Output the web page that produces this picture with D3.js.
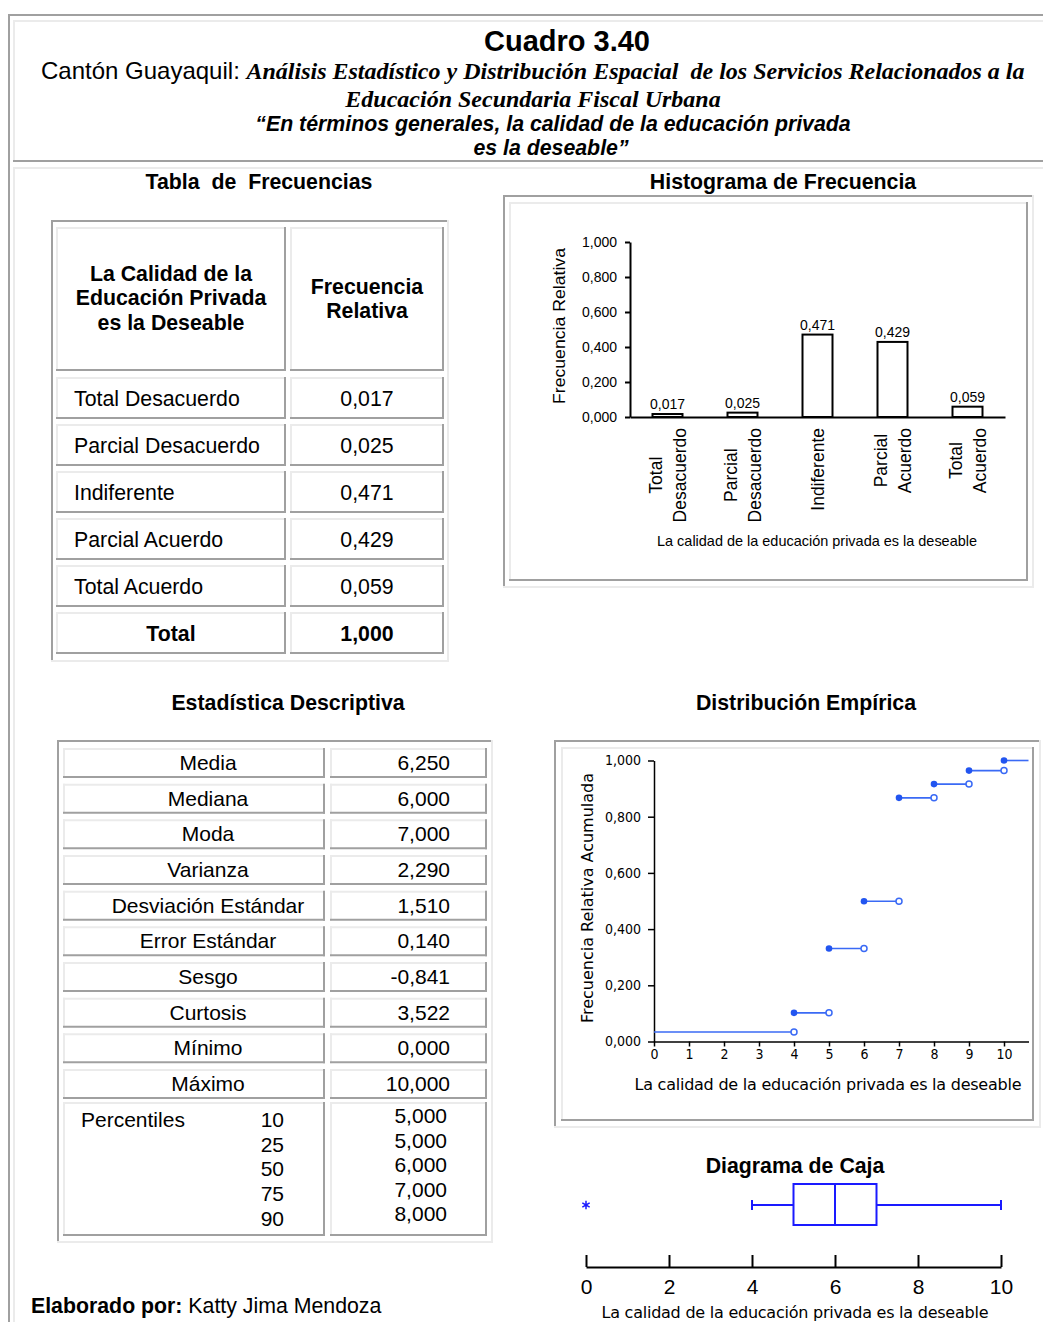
<!DOCTYPE html>
<html><head><meta charset="utf-8">
<script src="https://cdn.jsdelivr.net/npm/d3@7"></script>
<style>
body{margin:0;background:#fff}
svg{display:block}
text{font-family:"Liberation Sans",Arial,sans-serif;fill:#000;white-space:pre}
</style>
</head><body>
<svg id="c" width="1043" height="1322"></svg>
<script>
// ---------- DATA ----------
const categories = ["Total Desacuerdo","Parcial Desacuerdo","Indiferente","Parcial Acuerdo","Total Acuerdo"];
const categoryLines = [["Total","Desacuerdo"],["Parcial","Desacuerdo"],["Indiferente"],["Parcial","Acuerdo"],["Total","Acuerdo"]];
const freqRelativa = [0.017,0.025,0.471,0.429,0.059];
const freqTotal = 1.000;
const histYTicks = [0,0.2,0.4,0.6,0.8,1.0];

const statNames = ["Media","Mediana","Moda","Varianza","Desviación Estándar","Error Estándar","Sesgo","Curtosis","Mínimo","Máximo"];
const statValues = [6.25,6.0,7.0,2.29,1.51,0.14,-0.841,3.522,0.0,10.0];
const percentileLevels = [10,25,50,75,90];
const percentileValues = [5,5,6,7,8];

const ecdfX = [0,4,5,6,7,8,9,10];
const ecdfY = [0.034,0.102,0.331,0.499,0.867,0.916,0.964,1.000];
const ecdfXTicks = [0,1,2,3,4,5,6,7,8,9,10];
const ecdfYTicks = [0,0.2,0.4,0.6,0.8,1.0];

const boxNames = ["min","q1","median","q3","max"];
const boxValues = [4,5,6,7,10];
const boxOutliers = [0];
const boxTicks = [0,2,4,6,8,10];

const axisTitle = "La calidad de la educación privada es la deseable";

// ---------- HELPERS ----------
const loc = d3.formatLocale({decimal:",",thousands:".",grouping:[3],currency:["$",""],minus:"-"});
const f3 = loc.format(".3f");
const svg = d3.select("#c");
const DARK = "#a0a0a0", LIGHT = "#ebebeb";
const CONDENSED = "'DejaVu Sans Condensed','DejaVu Sans',Verdana,sans-serif";
function hline(x1,x2,y,c,w=2){svg.append("line").attr("x1",x1).attr("x2",x2).attr("y1",y).attr("y2",y).attr("stroke",c).attr("stroke-width",w);}
function vline(x,y1,y2,c,w=2){svg.append("line").attr("x1",x).attr("x2",x).attr("y1",y1).attr("y2",y2).attr("stroke",c).attr("stroke-width",w);}
function bevel(x,y,w,h,tl,br){hline(x-1,x+w+1,y,tl);vline(x,y-1,y+h+1,tl);hline(x-1,x+w+1,y+h,br);vline(x+w,y-1,y+h+1,br);}
function txt(x,y,s,opt={}){
  const t = svg.append("text").attr("x",x).attr("y",y).text(s)
    .attr("font-size",opt.size||21.3).attr("text-anchor",opt.anchor||"start");
  if(opt.bold) t.attr("font-weight","bold");
  if(opt.italic) t.attr("font-style","italic");
  if(opt.family) t.style("font-family",opt.family);
  if(opt.len) t.attr("textLength",opt.len).attr("lengthAdjust",opt.adj||"spacingAndGlyphs");
  return t;
}

// ---------- PAGE FRAME ----------
hline(8,1043,15,DARK); vline(9,14,1322,DARK);
hline(13,1043,21,LIGHT); vline(14,20,161,LIGHT);
hline(13,1043,161,DARK);
hline(13,1043,168,LIGHT); vline(14,167,1322,LIGHT);

// ---------- HEADER ----------
txt(567,51,"Cuadro 3.40",{size:29,bold:true,anchor:"middle"});
const l2 = svg.append("text").attr("x",41).attr("y",79).attr("font-size",24);
l2.append("tspan").text("Cantón Guayaquil: ");
l2.append("tspan").style("font-family","'Liberation Serif','Times New Roman',serif")
  .attr("font-style","italic").attr("font-weight","bold")
  .text("Análisis Estadístico y Distribución Espacial  de los Servicios Relacionados a la");
txt(533,107,"Educación Secundaria Fiscal Urbana",{size:24,bold:true,italic:true,anchor:"middle",family:"'Liberation Serif','Times New Roman',serif"});
txt(553,131,"“En términos generales, la calidad de la educación privada",{bold:true,italic:true,anchor:"middle"});
txt(551,155,"es la deseable”",{bold:true,italic:true,anchor:"middle"});

// ---------- SECTION TITLES ----------
txt(259,189,"Tabla  de  Frecuencias",{bold:true,anchor:"middle"});
txt(783,189,"Histograma de Frecuencia",{bold:true,anchor:"middle"});
txt(288,710,"Estadística Descriptiva",{bold:true,anchor:"middle"});
txt(806,710,"Distribución Empírica",{bold:true,anchor:"middle"});
txt(795,1173,"Diagrama de Caja",{bold:true,anchor:"middle"});

// ---------- FREQUENCY TABLE ----------
bevel(52,221,396,440,DARK,LIGHT);
bevel(57,228,228,142,LIGHT,DARK);
bevel(291,228,152,142,LIGHT,DARK);
["La Calidad de la","Educación Privada","es la Deseable"].forEach((s,i)=>txt(171,281+i*24.3,s,{bold:true,anchor:"middle"}));
["Frecuencia","Relativa"].forEach((s,i)=>txt(367,294+i*24,s,{bold:true,anchor:"middle"}));
const rowY = d3.scaleLinear().domain([0,1]).range([378,425]);
const tableRows = categories.map((c,i)=>({name:c,val:freqRelativa[i],bold:false}))
  .concat([{name:"Total",val:freqTotal,bold:true}]);
tableRows.forEach((r,i)=>{
  const y = rowY(i);
  bevel(57,y,228,40,LIGHT,DARK);
  bevel(291,y,152,40,LIGHT,DARK);
  if(r.bold) txt(171,y+28,r.name,{bold:true,anchor:"middle"});
  else txt(74,y+28,r.name,{});
  txt(367,y+28,f3(r.val),{anchor:"middle",bold:r.bold});
});

// ---------- HISTOGRAM ----------
bevel(504,196,529,391,DARK,LIGHT);
bevel(510,203,517,377,LIGHT,DARK);
const hx = d3.scaleBand().domain(categories).range([630,1005]).paddingInner(0.6).paddingOuter(0.3);
const hy = d3.scaleLinear().domain([0,1]).range([417,242]);
const hg = svg.append("g");
const yAx = hg.append("g").attr("transform","translate(630,0)")
  .call(d3.axisLeft(hy).tickValues(histYTicks).tickFormat(f3).tickSize(5).tickSizeOuter(0).tickPadding(8));
yAx.selectAll("text").attr("font-size",14).style("font-family","'Liberation Sans',Arial,sans-serif");
yAx.selectAll("path,line").attr("stroke","#000").attr("stroke-width",2);
const xAx = hg.append("g").attr("transform","translate(0,417)")
  .call(d3.axisBottom(hx).tickSize(0).tickFormat(""));
xAx.selectAll("path").attr("stroke","#000").attr("stroke-width",2);
hg.selectAll("rect.bar").data(freqRelativa).join("rect").attr("class","bar")
  .attr("x",(d,i)=>hx(categories[i])).attr("y",d=>hy(d))
  .attr("width",hx.bandwidth()).attr("height",d=>hy(0)-hy(d))
  .attr("fill","#fff").attr("stroke","#000").attr("stroke-width",2);
hg.selectAll("text.val").data(freqRelativa).join("text").attr("class","val")
  .attr("x",(d,i)=>hx(categories[i])+hx.bandwidth()/2).attr("y",d=>hy(d)-5)
  .attr("text-anchor","middle").attr("font-size",14).text(d=>f3(d));
categoryLines.forEach((lines,i)=>{
  const cx = hx(categories[i])+hx.bandwidth()/2;
  const g = hg.append("g").attr("transform",`translate(${cx},428) rotate(-90)`);
  const ts = lines.map((s,j)=>g.append("text").attr("font-size",17.5).attr("text-anchor","middle")
    .attr("y",(j-(lines.length-1)/2)*24+6).text(s));
  const maxLen = d3.max(ts,t=>t.node().getComputedTextLength());
  ts.forEach(t=>t.attr("x",-maxLen/2));
});
txt(817,546,axisTitle,{size:14.5,anchor:"middle",len:320});
svg.append("text").attr("transform","translate(565,326) rotate(-90)").attr("text-anchor","middle")
  .attr("font-size",16.5).attr("textLength",156).attr("lengthAdjust","spacingAndGlyphs").text("Frecuencia Relativa");

// ---------- DESCRIPTIVE STATS TABLE ----------
bevel(58,741,434,501,DARK,LIGHT);
const sY = d3.scaleLinear().domain([0,1]).range([749,784.67]);
statNames.forEach((n,i)=>{
  const y = sY(i);
  bevel(64,y,260,28,LIGHT,DARK);
  bevel(331,y,155,28,LIGHT,DARK);
  txt(208,y+21,n,{size:21,anchor:"middle"});
  txt(450,y+21,f3(statValues[i]),{size:21,anchor:"end"});
});
bevel(64,1103,260,132,LIGHT,DARK);
bevel(331,1103,155,132,LIGHT,DARK);
txt(81,1127,"Percentiles",{size:21});
const pY = d3.scaleLinear().domain([0,1]).range([1127,1151.7]);
const pvY = d3.scaleLinear().domain([0,1]).range([1123,1147.5]);
percentileLevels.forEach((p,i)=>{
  txt(284,pY(i),String(p),{size:21,anchor:"end"});
  txt(447,pvY(i),f3(percentileValues[i]),{size:21,anchor:"end"});
});

// ---------- EMPIRICAL DISTRIBUTION ----------
bevel(555,741,485,386,DARK,LIGHT);
bevel(562,748,471,372,LIGHT,DARK);
const ex = d3.scaleLinear().domain([0,10.7]).range([654,1028.5]);
const ey = d3.scaleLinear().domain([0,1]).range([1041.5,760.5]);
const eg = svg.append("g");
const eyAx = eg.append("g").attr("transform","translate(654,0)")
  .call(d3.axisLeft(ey).tickValues(ecdfYTicks).tickFormat(f3).tickSize(6).tickSizeOuter(0).tickPadding(7));
const exAx = eg.append("g").attr("transform","translate(0,1041.5)")
  .call(d3.axisBottom(ex).tickValues(ecdfXTicks).tickFormat(d3.format("d")).tickSize(5).tickSizeOuter(0).tickPadding(3));
[eyAx,exAx].forEach(a=>{
  a.selectAll("text").attr("font-size",14).style("font-family",CONDENSED);
  a.selectAll("path,line").attr("stroke","#000").attr("stroke-width",1.5);
});
const BLUE = "#3a6af5";
const segs = ecdfX.map((x,i)=>({x0:x,x1:i<ecdfX.length-1?ecdfX[i+1]:10.7,y:ecdfY[i]}));
eg.selectAll("line.seg").data(segs).join("line").attr("class","seg")
  .attr("x1",d=>ex(d.x0)).attr("x2",d=>ex(d.x1)).attr("y1",d=>ey(d.y)).attr("y2",d=>ey(d.y))
  .attr("stroke",BLUE).attr("stroke-width",1.6);
eg.selectAll("circle.open").data(segs.slice(0,-1)).join("circle").attr("class","open")
  .attr("cx",d=>ex(d.x1)).attr("cy",d=>ey(d.y)).attr("r",3)
  .attr("fill","#fff").attr("stroke",BLUE).attr("stroke-width",1.5);
eg.selectAll("circle.filled").data(segs.slice(1)).join("circle").attr("class","filled")
  .attr("cx",d=>ex(d.x0)).attr("cy",d=>ey(d.y)).attr("r",3.3).attr("fill","#2255f0");
txt(828,1090,axisTitle,{size:16,anchor:"middle",family:"'DejaVu Sans',Verdana,sans-serif",len:387,adj:"spacing"});
svg.append("text").attr("transform","translate(593,898) rotate(-90)").attr("text-anchor","middle")
  .attr("font-size",15).style("font-family","'DejaVu Sans',Verdana,sans-serif")
  .attr("textLength",250).attr("lengthAdjust","spacingAndGlyphs").text("Frecuencia Relativa Acumulada");

// ---------- BOX PLOT ----------
const bx = d3.scaleLinear().domain([0,10]).range([586,1001]);
const bs = Object.fromEntries(boxNames.map((n,i)=>[n,boxValues[i]]));
const bg = svg.append("g");
const BOX = "#1a1aff";
const bTop = 1184, bBot = 1225, bMid = 1205;
bg.append("line").attr("x1",bx(bs.min)).attr("x2",bx(bs.q1)).attr("y1",bMid).attr("y2",bMid).attr("stroke",BOX).attr("stroke-width",2);
bg.append("line").attr("x1",bx(bs.q3)).attr("x2",bx(bs.max)).attr("y1",bMid).attr("y2",bMid).attr("stroke",BOX).attr("stroke-width",2);
[bs.min,bs.max].forEach(v=>bg.append("line").attr("x1",bx(v)).attr("x2",bx(v)).attr("y1",bMid-5).attr("y2",bMid+5).attr("stroke",BOX).attr("stroke-width",2));
bg.append("rect").attr("x",bx(bs.q1)).attr("y",bTop).attr("width",bx(bs.q3)-bx(bs.q1)).attr("height",bBot-bTop)
  .attr("fill","none").attr("stroke",BOX).attr("stroke-width",2);
bg.append("line").attr("x1",bx(bs.median)).attr("x2",bx(bs.median)).attr("y1",bTop).attr("y2",bBot).attr("stroke",BOX).attr("stroke-width",2);
const sym = d3.symbol().type(d3.symbolAsterisk || d3.symbolCross).size(50);
bg.selectAll("path.out").data(boxOutliers).join("path").attr("class","out")
  .attr("transform",d=>`translate(${bx(d)},${bMid})`).attr("d",sym())
  .attr("fill",BOX).attr("stroke",BOX).attr("stroke-width",1.5);
const bAx = bg.append("g").attr("transform","translate(0,1267)")
  .call(d3.axisBottom(bx).tickValues(boxTicks).tickSize(-12).tickSizeOuter(0).tickPadding(12).tickFormat(d3.format("d")));
bAx.selectAll("text").attr("font-size",21).style("font-family","'Liberation Sans',Arial,sans-serif").attr("fill","#222");
bAx.selectAll("path,line").attr("stroke","#000").attr("stroke-width",2);
txt(795,1318,axisTitle,{size:16,anchor:"middle",family:"'DejaVu Sans',Verdana,sans-serif",len:387,adj:"spacing"});

// ---------- FOOTER ----------
const ft = svg.append("text").attr("x",31).attr("y",1313).attr("font-size",21.3);
ft.append("tspan").attr("font-weight","bold").text("Elaborado por:");
ft.append("tspan").text(" Katty Jima Mendoza");
</script>
</body></html>
